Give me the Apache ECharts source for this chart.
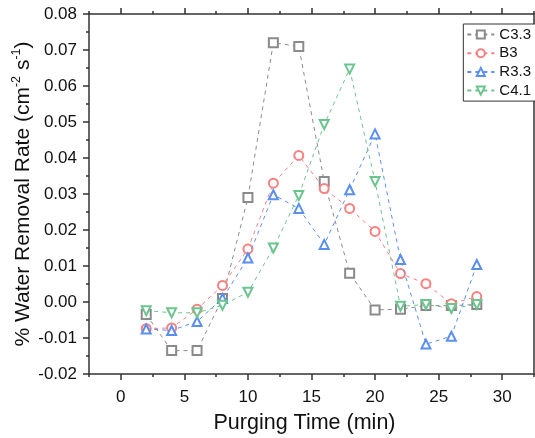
<!DOCTYPE html>
<html>
<head>
<meta charset="utf-8">
<script src="https://cdn.jsdelivr.net/npm/echarts@6/dist/echarts.min.js"></script>
<style>html,body{margin:0;padding:0;background:#fff;}#c{width:535px;height:438px;}</style>
</head>
<body>
<div id="c"></div>
<script>
var xValues = [2, 4, 6, 8, 10, 12, 14, 16, 18, 20, 22, 24, 26, 28];
var seriesNames = ['C3.3', 'B3', 'R3.3', 'C4.1'];
var c33 = [-0.0035, -0.0135, -0.0135, 0.001, 0.029, 0.072, 0.071, 0.0335, 0.008, -0.0022, -0.002, -0.001, -0.001, -0.0007];
var b3 = [-0.0074, -0.0072, -0.002, 0.0046, 0.0147, 0.033, 0.0407, 0.0315, 0.026, 0.0196, 0.0079, 0.0051, -0.0005, 0.0015];
var r33 = [-0.0075, -0.0079, -0.0054, 0.001, 0.0122, 0.0298, 0.026, 0.016, 0.0312, 0.0467, 0.0118, -0.0117, -0.0095, 0.0104];
var c41 = [-0.0024, -0.003, -0.003, -0.0009, 0.0027, 0.015, 0.0296, 0.0493, 0.0647, 0.0335, -0.0012, -0.0007, -0.0018, -0.0007];
var xMajorTicks = [0, 5, 10, 15, 20, 25, 30];
var xMinorTicks = [-2.5, 2.5, 7.5, 12.5, 17.5, 22.5, 27.5, 32.5];

var colors = ['#8a8a8a', '#f78080', '#5b8fef', '#6cc58f'];
var symbols = ['emptyRect', 'emptyCircle', 'emptyTriangle', 'emptyTriangle'];
var rotations = [0, 0, 0, 180];
var allData = [c33, b3, r33, c41];

function pairs(arr) { return xValues.map(function (x, i) { return [x, arr[i]]; }); }

var axisColor = '#333';
var font = 'Liberation Sans, Arial, sans-serif';

var chart = echarts.init(document.getElementById('c'), null, { renderer: 'canvas' });
var series = seriesNames.map(function (n, i) {
  return {
    name: n, type: 'line', data: pairs(allData[i]),
    xAxisIndex: 0, yAxisIndex: 0,
    symbol: symbols[i], symbolRotate: rotations[i], symbolSize: 9,
    lineStyle: { color: colors[i], width: 1, type: [4, 4] },
    itemStyle: { color: colors[i], borderColor: colors[i], borderWidth: 1 },
    animation: false, z: 3 + i
  };
});

function tickAxis(pos, vals, len, showLine) {
  return {
    type: 'value', min: -2.5, max: 32.5, position: pos,
    axisLine: { show: showLine, onZero: false, lineStyle: { color: axisColor, width: 1.5 } },
    axisTick: { show: true, customValues: vals, length: len, lineStyle: { color: axisColor, width: 1.5 } },
    axisLabel: { show: false }, splitLine: { show: false }
  };
}

chart.setOption({
  animation: false,
  grid: { left: 89, top: 14, right: 1, bottom: 64, containLabel: false, outerBoundsMode: 'none' },
  legend: {
    data: seriesNames, right: -10, top: 24, orient: 'vertical',
    backgroundColor: '#fff', borderColor: '#333', borderWidth: 1,
    padding: [3, 14, 3, 3], itemGap: 3.7, itemWidth: 27, itemHeight: 10,
    textStyle: { fontSize: 15, fontFamily: font, color: '#111' }
  },
  xAxis: [
    {
      type: 'value', min: -2.5, max: 32.5, position: 'bottom',
      name: 'Purging Time (min)', nameLocation: 'middle', nameGap: 38, nameMoveOverlap: false,
      nameTextStyle: { fontSize: 21.5, fontFamily: font, color: '#111', padding: [0, 14, 0, 0] },
      axisLine: { show: true, onZero: false, lineStyle: { color: axisColor, width: 1.5 } },
      axisTick: { show: true, customValues: xMajorTicks, length: 6, lineStyle: { color: axisColor, width: 1.5 } },
      axisLabel: { customValues: xMajorTicks, fontSize: 17, fontFamily: font, color: '#111', margin: 15 },
      splitLine: { show: false }
    },
    tickAxis('bottom', xMinorTicks, 3, false),
    tickAxis('top', xMajorTicks, 6, true),
    tickAxis('top', xMinorTicks, 3, false)
  ],
  yAxis: [
    {
      type: 'value', min: -0.02, max: 0.08, interval: 0.01, position: 'left',
      name: '{a|% Water Removal Rate (cm}{s|-2}{a| s}{s|-1}{a|)}',
      nameLocation: 'middle', nameGap: 52, nameMoveOverlap: false,
      nameTextStyle: {
        fontSize: 21, fontFamily: font, color: '#111',
        rich: {
          a: { fontSize: 21, fontFamily: font, color: '#111', lineHeight: 27 },
          s: { fontSize: 12.5, fontFamily: font, color: '#111', verticalAlign: 'top', lineHeight: 27, padding: [0, 0, 10, 0] }
        }
      },
      axisLine: { show: true, onZero: false, lineStyle: { color: axisColor, width: 1.5 } },
      axisTick: { show: true, length: 6, lineStyle: { color: axisColor, width: 1.5 } },
      minorTick: { show: true, splitNumber: 2, length: 3, lineStyle: { color: axisColor, width: 1.5 } },
      axisLabel: { fontSize: 17, fontFamily: font, color: '#111', margin: 12,
        formatter: function (v) { return v.toFixed(2); } },
      splitLine: { show: false }, minorSplitLine: { show: false }
    },
    {
      type: 'value', min: -0.02, max: 0.08, interval: 0.01, position: 'right',
      axisLine: { show: true, onZero: false, lineStyle: { color: axisColor, width: 1.5 } },
      axisTick: { show: false }, axisLabel: { show: false }, splitLine: { show: false }
    }
  ],
  series: series
});
</script>
</body>
</html>
